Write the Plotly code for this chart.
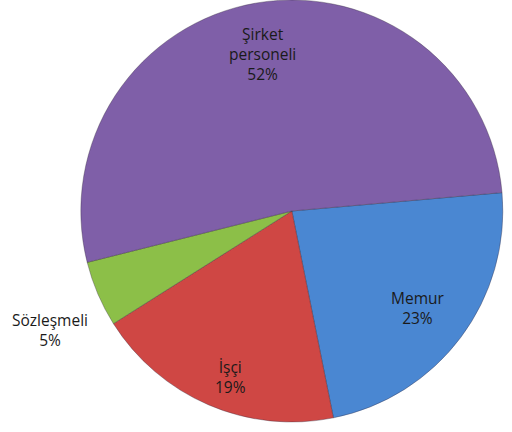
import plotly.graph_objects as go

labels = ["Memur", "İşçi", "Sözleşmeli", "Şirket<br>personeli"]
values = [23, 19, 5, 52]
colors = ["#4a87d2", "#cf4744", "#8cbf48", "#7f5fa8"]

# label anchor positions (paper coords)
label_x = [0.816, 0.451, 0.098, 0.512]
label_y = [0.270, 0.107, 0.218, 0.872]

fig = go.Figure(go.Pie(
    labels=labels,
    values=values,
    sort=False,
    direction="clockwise",
    rotation=85,
    marker=dict(colors=colors, line=dict(color="rgba(50,40,60,0.45)", width=0.8)),
    textinfo="none",
    domain=dict(x=[0.15, 0.99], y=[0, 1]),
    showlegend=False,
    hoverinfo="label+value",
))

for lab, val, x, y in zip(labels, values, label_x, label_y):
    fig.add_annotation(
        x=x, y=y, xref="paper", yref="paper",
        xanchor="center", yanchor="middle",
        text=f"{lab}<br>{val}%",
        showarrow=False,
        font=dict(family="Open Sans", size=15.5, color="#1a1a1a"),
        align="center",
    )

fig.update_layout(
    width=512, height=432,
    margin=dict(l=0, r=0, t=0, b=10),
    paper_bgcolor="white",
)

fig.write_html("out.html", config={"displayModeBar": False},
               post_script="document.body.style.margin='0';")
